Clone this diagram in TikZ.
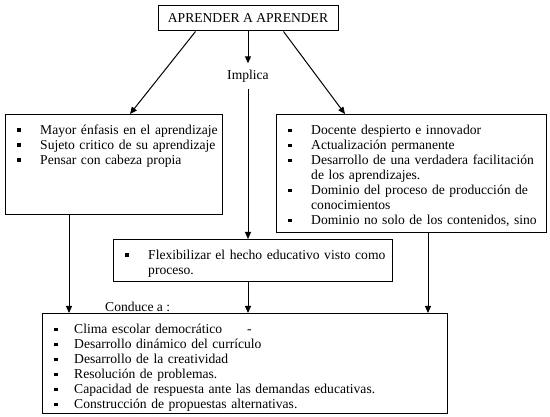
\documentclass[tikz,border=0pt]{standalone}
\usepackage{fontspec}
\setmainfont{Liberation Serif}
\usetikzlibrary{arrows.meta,calc}
\newcommand\sqb{\rule[2.8pt]{3.5pt}{3.5pt}}
\newcommand\itm[2][35pt]{\par\hangindent=#1\hangafter=1\noindent\makebox[#1][l]{\hspace*{12pt}\sqb}#2\par}
\begin{document}
\begin{tikzpicture}[x=1pt,y=-1pt,
  box/.style={draw, line width=1pt, rectangle, anchor=north west, inner sep=0pt},
  txt/.style={anchor=base west, inner sep=0pt, text width=480pt, align=left, font=\fontsize{13.6}{15}\selectfont},
  lbl/.style={inner sep=0pt, font=\fontsize{13.6}{15}\selectfont},
  arr/.style={line width=1pt, -{Triangle[length=7pt,width=6pt]}}]
\useasboundingbox (0,0) rectangle (550,417);
% boxes
\node[draw, line width=1pt, inner sep=0pt, minimum width=180pt, minimum height=25pt, lbl] (T) at (248,18.5) {APRENDER A APRENDER};
\node[lbl, minimum height=25pt] (I) at (248,76) {Implica};
\node[box, minimum width=217pt, minimum height=100pt] (L) at (5,114) {};
\node[box, minimum width=270pt, minimum height=118pt] (R) at (276,114) {};
\node[box, minimum width=279pt, minimum height=42pt] (F) at (113,239) {};
\node[box, minimum width=405pt, minimum height=100pt] (B) at (42,313) {};
% texts
\node[txt] (Lt) at (5,119.5) {\itm{Mayor énfasis en el aprendizaje}\itm{Sujeto critico de su aprendizaje}\itm{Pensar con cabeza propia}};
\node[txt] (Rt) at (276,120) {\itm{Docente despierto e innovador}\itm{Actualización permanente}\itm{Desarrollo de una verdadera facilitación\newline de los aprendizajes.}\itm{Dominio del proceso de producción de\newline conocimientos}\itm{Dominio no solo de los contenidos, sino}};
\node[txt] (Ft) at (113,244.5) {\itm{Flexibilizar el hecho educativo visto como\newline proceso.}};
\node[txt] (Bt) at (42,319) {\itm[32pt]{\makebox[173pt][l]{Clima escolar democrático}-}\itm[32pt]{Desarrollo dinámico del currículo}\itm[32pt]{Desarrollo de la creatividad}\itm[32pt]{Resolución de problemas.}\itm[32pt]{Capacidad de respuesta ante las demandas educativas.}\itm[32pt]{Construcción de propuestas alternativas.}};
\node[lbl, anchor=base west] (C) at (105,312) {Conduce a :};
% connectors
\draw[arr] (T.south) -- (I.north);
\draw[arr] (I.south) -- (I.south |- F.north);
\draw[arr] ($(T.south west)+(38,0)$) -- ($(L.north west)+(125,0)$);
\draw[arr] ($(T.south east)+(-55,0)$) -- ($(R.north west)+(69,0)$);
\draw[arr] ($(L.south west)+(64,0)$) -- ($(B.north west)+(27,0)$);
\draw[arr] (I.south |- F.south) -- (I.south |- B.north);
\draw[arr] ($(R.south west)+(152,0)$) -- ($(B.north west)+(386,0)$);
\end{tikzpicture}
\end{document}
